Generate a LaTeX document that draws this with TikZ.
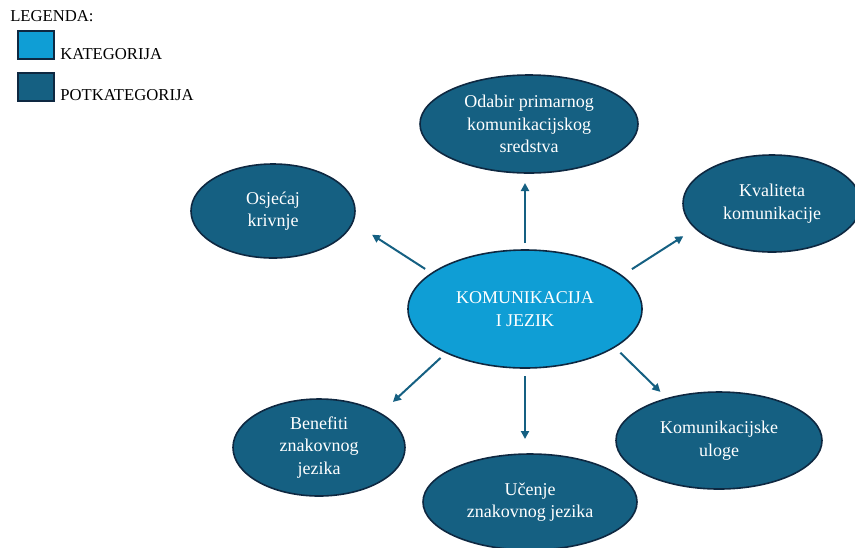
\documentclass[tikz,border=0pt]{standalone}
\usepackage{fontspec}
\setmainfont{Liberation Serif}
\usepackage{tikz}
\usetikzlibrary{shapes.geometric,arrows.meta}

\definecolor{catblue}{HTML}{0F9ED5}
\definecolor{subblue}{HTML}{156082}
\definecolor{rimblue}{HTML}{0E2841}

\begin{document}
\begin{tikzpicture}[x=0.75pt,y=0.75pt,yscale=-1,
  bubble/.style={ellipse,draw=rimblue,line width=1.2pt,fill=subblue,text=white,align=center,inner sep=0pt,outer sep=0pt,font=\fontsize{13.5}{17}\selectfont},
  catbubble/.style={bubble,fill=catblue},
  keybox/.style={draw=rimblue,line width=1.2pt,minimum width=27pt,minimum height=21pt,inner sep=0pt},
  keytext/.style={anchor=base west,inner sep=0pt,font=\fontsize{12.5}{15}\selectfont},
  link/.style={draw=subblue,line width=1.5pt,-{Triangle[length=6pt,width=6pt]}}]
\useasboundingbox (0,0) rectangle (855,547);

%Legend
\node[keytext] (legtitle) at (10,21) {LEGENDA:};
\node[keybox,fill=catblue] (keycat) at (36,45) {};
\node[keytext] (keycatlbl) at (60,59) {KATEGORIJA};
\node[keybox,fill=subblue] (keysub) at (36,87) {};
\node[keytext] (keysublbl) at (60,100) {POTKATEGORIJA};

%Shape: Ellipse (category)
\node[catbubble,minimum width=175.5pt,minimum height=88.5pt] (hub) at (525,309) {KOMUNIKACIJA\\I JEZIK};

%Shape: Ellipse (subcategories)
\node[bubble,minimum width=163.5pt,minimum height=73.5pt] (odabir) at (529,124) {Odabir primarnog\\komunikacijskog\\sredstva};
\node[bubble,minimum width=123pt,minimum height=70.5pt] (osj) at (273,211) {Osjećaj\\krivnje};
\node[bubble,minimum width=133.5pt,minimum height=72.75pt] (kval) at (772,203.5) {Kvaliteta\\komunikacije};
\node[bubble,minimum width=129pt,minimum height=72.75pt] (ben) at (319,447.5) {Benefiti\\znakovnog\\jezika};
\node[bubble,minimum width=160.5pt,minimum height=72pt] (ucenje) at (530,502) {Učenje\\znakovnog jezika};
\node[bubble,minimum width=154.5pt,minimum height=72.75pt] (uloge) at (719,440.5) {Komunikacijske\\uloge};

%Arrows
\draw[link,shorten <=5.25pt,shorten >=7.5pt] (hub.north) -- (hub.north |- odabir.south);
\draw[link,shorten <=6pt,shorten >=11.25pt] (hub.south) -- (hub.south |- ucenje.north);
\draw[link,shorten <=9.2pt,shorten >=10.9pt] (hub.19) -- (kval.198);
\draw[link,shorten <=6pt,shorten >=17.3pt] (hub.159) -- (osj.352);
\draw[link,shorten <=5.8pt,shorten >=12.8pt] (hub.209) -- (ben.29);
\draw[link,shorten <=6.2pt,shorten >=7.2pt] (hub.337) -- (uloge.141);

\end{tikzpicture}
\end{document}
